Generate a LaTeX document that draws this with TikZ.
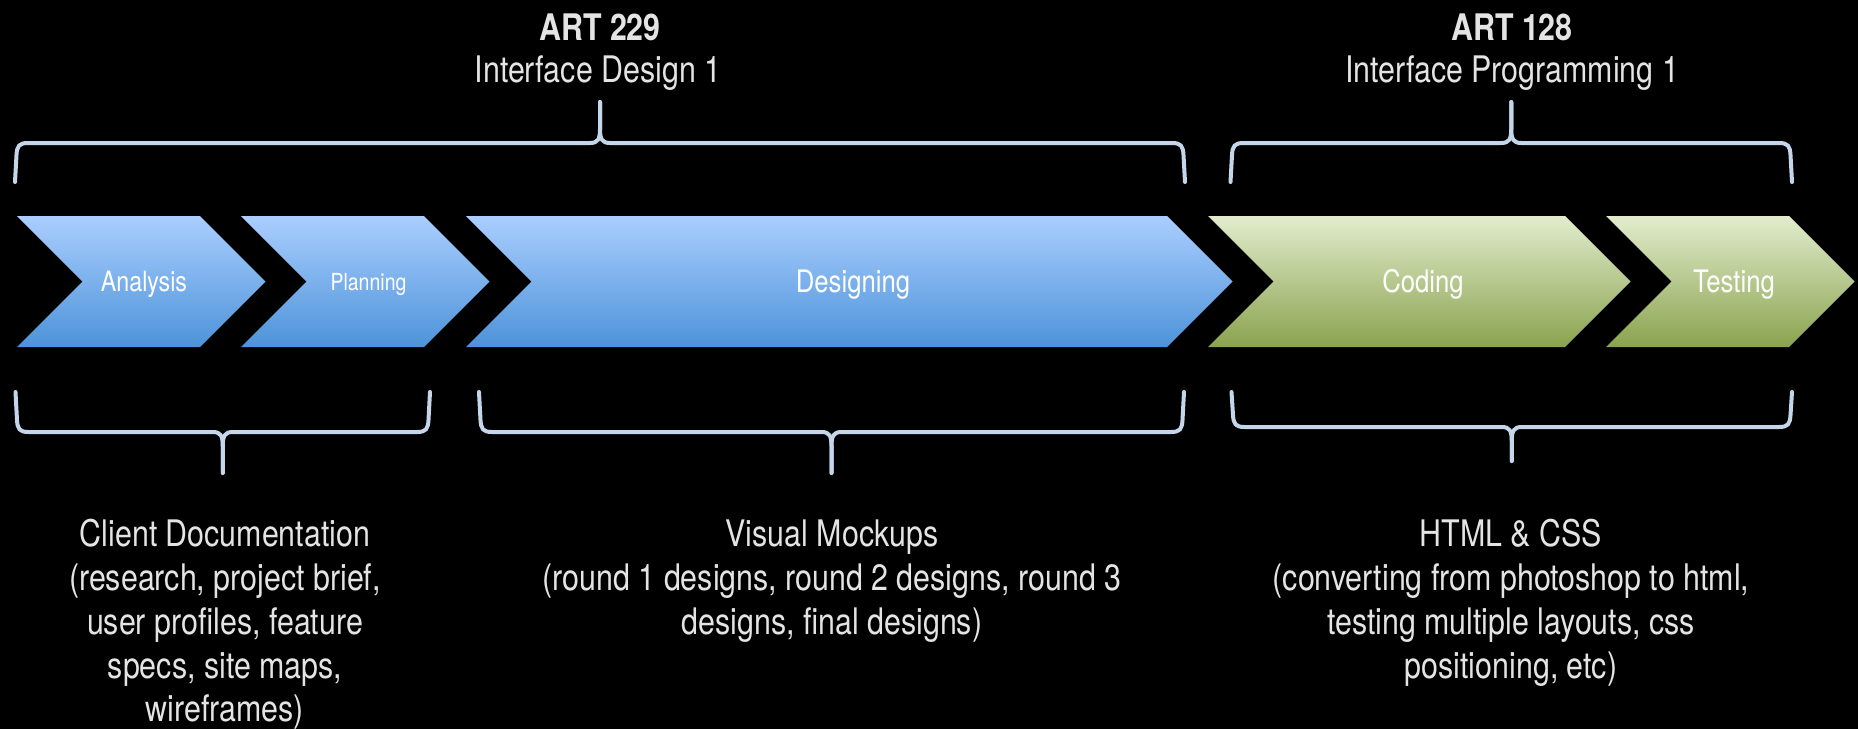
\documentclass[tikz,border=0pt]{standalone}
\usepackage{fontspec}
\setmainfont[FakeStretch=0.83]{TeX Gyre Heros}
\definecolor{bluetop}{RGB}{170,206,255}
\definecolor{bluebot}{RGB}{77,147,217}
\definecolor{greentop}{RGB}{226,236,205}
\definecolor{greenbot}{RGB}{138,163,78}
\definecolor{bracec}{RGB}{197,214,234}
\definecolor{txtc}{RGB}{228,228,228}
\tikzset{
  bracestyle/.style={draw=bracec, line width=2pt, line cap=round, line join=round},
  bluechev/.style={top color=bluetop, bottom color=bluebot},
  greenchev/.style={top color=greentop, bottom color=greenbot},
  chevlabel/.style={text=white, inner sep=0pt, anchor=base},
  headtxt/.style={text=txtc, inner sep=0pt, anchor=base, font=\fontsize{18.3}{22}\selectfont},
  desctxt/.style={text=txtc, inner sep=0pt, anchor=north, align=center, font=\fontsize{18.3}{21.85}\selectfont},
}
% #1 xl, #2 xr, #3 y of ends, #4 y of line, #5 y of peak, #6 sign (+1: ends below line)
\newcommand\mybrace[6]{%
  \pgfmathsetmacro\bxm{(#1+#2)/2}%
  \draw[bracestyle] (#1,#3) -- ({#1+1.5},{#4+12*#6})
     .. controls ({#1+2},{#4+3*#6}) and ({#1+4},#4) .. ({#1+13},#4)
     -- ({\bxm-10},#4)
     .. controls ({\bxm-2},#4) and (\bxm,{#4-4*#6}) .. (\bxm,{#4-14*#6})
     -- (\bxm,#5);
  \draw[bracestyle] (#2,#3) -- ({#2-1.5},{#4+12*#6})
     .. controls ({#2-2},{#4+3*#6}) and ({#2-4},#4) .. ({#2-13},#4)
     -- ({\bxm+10},#4)
     .. controls ({\bxm+2},#4) and (\bxm,{#4-4*#6}) .. (\bxm,{#4-14*#6})
     -- (\bxm,#5);
}
% chevron: #1 left-top x, #2 right-top x, #3 style
\newcommand\mychev[3]{%
  \shade[#3] (#1,216) -- (#2,216) -- ({#2+65.5},281.5) -- (#2,347) -- (#1,347) -- ({#1+65.5},281.5) -- cycle;
}
\begin{document}
\begin{tikzpicture}[x=0.5pt,y=-0.5pt]
\fill[black] (0,0) rectangle (1858,729);
\useasboundingbox (0,0) rectangle (1858,729);

% chevrons
\mychev{17}{200}{bluechev}
\mychev{241}{424}{bluechev}
\mychev{466}{1167}{bluechev}
\mychev{1208}{1565}{greenchev}
\mychev{1606}{1789}{greenchev}

\node[chevlabel, font=\fontsize{14}{16}\selectfont] (analysis) at (144,291.7) {Analysis};
\node[chevlabel, font=\fontsize{11.75}{14}\selectfont] (planning) at (368.5,290) {Planning};
\node[chevlabel, font=\fontsize{15.5}{18}\selectfont] (designing) at (853,292.5) {Designing};
\node[chevlabel, font=\fontsize{15.5}{18}\selectfont] (coding) at (1423,292.5) {Coding};
\node[chevlabel, font=\fontsize{15.5}{18}\selectfont] (testing) at (1734,292.5) {Testing};

% top headings
\node[headtxt, font=\fontsize{18.3}{22}\bfseries] (art229) at (600,40) {ART 229};
\node[headtxt] (id1) at (598,82.3) {Interface Design 1};
\node[headtxt, font=\fontsize{18.3}{22}\bfseries] (art128) at (1512,40) {ART 128};
\node[headtxt] (ip1) at (1512,82.3) {Interface Programming 1};

% braces
\mybrace{15}{1185}{182}{143}{102}{1}
\mybrace{1230.5}{1792}{182}{143}{102}{1}
\mybrace{15.5}{430}{392}{432}{473}{-1}
\mybrace{479}{1184}{392}{432}{473}{-1}
\mybrace{1231.5}{1792}{392}{427}{461}{-1}

% descriptions
\node[desctxt] (doc) at (225,516.5) {\rule{0pt}{15pt}Client Documentation\\(research, project brief,\\user profiles, feature\\specs, site maps,\\wireframes)};
\node[desctxt] (mock) at (832,516.5) {\rule{0pt}{15pt}Visual Mockups\\(round 1 designs, round 2 designs, round 3\\designs, final designs)};
\node[desctxt] (html) at (1511,516.5) {\rule{0pt}{15pt}HTML \& CSS\\(converting from photoshop to html,\\testing multiple layouts, css\\positioning, etc)};
\end{tikzpicture}
\end{document}
